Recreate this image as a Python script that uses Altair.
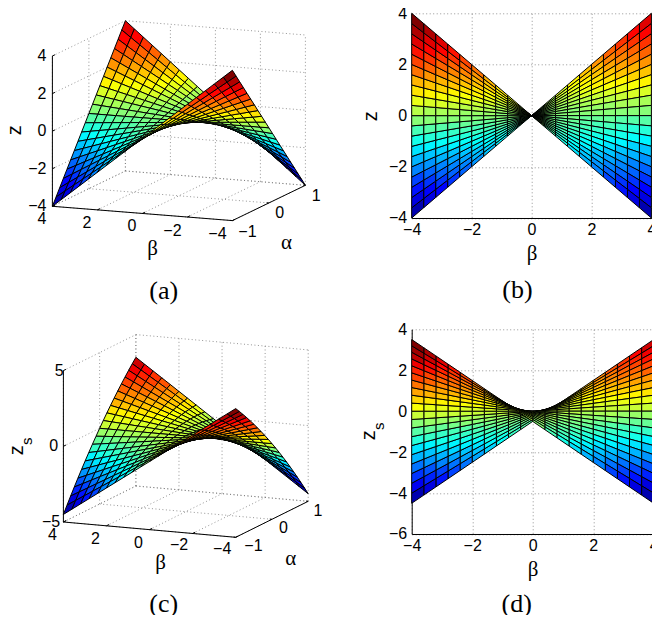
import altair as alt
import numpy as np

# grid of the meshes
beta_grid = [-4.0, -3.6, -3.2, -2.8, -2.4, -2.0, -1.6, -1.2, -0.8, -0.4, 0.0,
             0.4, 0.8, 1.2, 1.6, 2.0, 2.4, 2.8, 3.2, 3.6, 4.0]
alpha_grid = [-1.0, -0.9, -0.8, -0.7, -0.6, -0.5, -0.4, -0.3, -0.2, -0.1, 0.0,
              0.1, 0.2, 0.3, 0.4, 0.5, 0.6, 0.7, 0.8, 0.9, 1.0]
# vertical shift of each constant-alpha row in panels (c) and (d)
row_shift = [-0.5, -0.405, -0.32, -0.245, -0.18, -0.125, -0.08, -0.045, -0.02, -0.005, 0.0,
             -0.005, -0.02, -0.045, -0.08, -0.125, -0.18, -0.245, -0.32, -0.405, -0.5]
beta_ticks = [4, 2, 0, -2, -4]
alpha_ticks = [-1, 0, 1]
z_ticks_a = [-4, -2, 0, 2, 4]
z_ticks_c = [-5, 0, 5]
z_ticks_b = [-4, -2, 0, 2, 4]
z_ticks_d = [-6, -4, -2, 0, 2, 4]
captions = ["(a)", "(b)", "(c)", "(d)"]

SANS = "Liberation Sans"
SERIF = "Liberation Serif"
GRID = "#7a7a7a"

B = np.array(beta_grid)
A = np.array(alpha_grid)
Z = np.outer(A, B)
ZS = Z + np.array(row_shift)[:, None]


def jet(t):
    t = np.floor(np.clip(t, 0, 0.9999) * 64) / 63
    ch = [min(4 * t - 1.5, -4 * t + 4.5), min(4 * t - 0.5, -4 * t + 3.5), min(4 * t + 0.5, -4 * t + 2.5)]
    return "#%02x%02x%02x" % tuple(int(round(255 * max(0, min(1, c)))) for c in ch)


def quads(M, clim, proj):
    rows = []
    q = 0
    for i in range(19, -1, -1):
        for j in range(19, -1, -1):
            col = jet((M[i, j] - clim[0]) / (clim[1] - clim[0]))
            for o, (ii, jj) in enumerate([(i, j), (i, j + 1), (i + 1, j + 1), (i + 1, j)]):
                x, y = proj(B[jj], A[ii], M[ii, jj])
                rows.append({"q": q, "o": o, "x": round(float(x), 3), "y": round(float(y), 3), "c": col})
            q += 1
    return rows


def surface(rows, x, y):
    return alt.Chart(alt.Data(values=rows)).mark_line(
        interpolate="linear-closed", stroke="black", strokeWidth=1.0, strokeJoin="round"
    ).encode(x=x, y=y, detail="q:N", order="o:Q", fill=alt.Fill("c:N", scale=None))


def text(rows, x, y, font, size, align="center", angle=0):
    return alt.Chart(alt.Data(values=rows)).mark_text(
        font=font, fontSize=size, align=align, baseline="middle", angle=angle, color="black"
    ).encode(x=x, y=y, text="t:N")


def panel3d(top, O, bv, av, zv, zmin, zmax, zticks, M, clim, labels):
    span = zmax - zmin

    def P(b, a, z):
        return (O[0] + (4 - b) / 8 * bv[0] + (a + 1) / 2 * av[0],
                O[1] + (4 - b) / 8 * bv[1] + (a + 1) / 2 * av[1] + (z - zmin) / span * zv)

    def seg(p, q):
        return {"x": p[0], "y": p[1], "x2": q[0], "y2": q[1]}

    dotted = []
    for z in zticks:
        dotted.append(seg(P(4, -1, z), P(4, 1, z)))
        dotted.append(seg(P(4, 1, z), P(-4, 1, z)))
    for b in beta_ticks:
        dotted.append(seg(P(b, 1, zmin), P(b, 1, zmax)))
        dotted.append(seg(P(b, -1, zmin), P(b, 1, zmin)))
    for a in alpha_ticks:
        dotted.append(seg(P(4, a, zmin), P(4, a, zmax)))
        dotted.append(seg(P(4, a, zmin), P(-4, a, zmin)))

    solid = [seg(P(4, -1, zmin), P(4, -1, zmax)), seg(P(4, -1, zmin), P(-4, -1, zmin)),
             seg(P(-4, -1, zmin), P(-4, 1, zmin))]
    for z in zticks:
        solid.append(seg(P(4, -1, z), P(4, -0.93, z)))
    for b in beta_ticks:
        solid.append(seg(P(b, -1, zmin), P(b, -0.93, zmin)))
    for a in alpha_ticks:
        solid.append(seg(P(-4, a, zmin), P(-3.9, a, zmin)))

    x_enc = alt.X("x:Q", axis=None, scale=alt.Scale(domain=[8, 370], nice=False, zero=False))
    y_enc = alt.Y("y:Q", axis=None, scale=alt.Scale(domain=[top + 204.7, top], nice=False, zero=False))
    x2 = alt.X2("x2:Q")
    y2 = alt.Y2("y2:Q")

    dots = alt.Chart(alt.Data(values=dotted)).mark_rule(
        color=GRID, strokeWidth=0.8, strokeDash=[1, 2.5]).encode(x=x_enc, y=y_enc, x2=x2, y2=y2)
    lines = alt.Chart(alt.Data(values=solid)).mark_rule(
        color="black", strokeWidth=1).encode(x=x_enc, y=y_enc, x2=x2, y2=y2)
    surf = surface(quads(M, clim, P), x_enc, y_enc)

    zl = []
    for z, r in zip(zticks, labels["z_right"]):
        zl.append({"x": r, "y": P(4, -1, z)[1], "t": str(z).replace("-", "−")})
    bl = []
    for b in beta_ticks:
        p = P(b, -1, zmin)
        off = labels["b_off_neg"] if b < 0 else labels["b_off"]
        bl.append({"x": p[0] + off[0], "y": p[1] + off[1], "t": str(b).replace("-", "−")})
    al = []
    for a, off in zip(alpha_ticks, labels["a_off"]):
        p = P(-4, a, zmin)
        al.append({"x": p[0] + off[0], "y": p[1] + off[1], "t": str(a).replace("-", "−")})

    layers = [dots, surf, lines,
              text(zl, x_enc, y_enc, SANS, 16, align="right"),
              text(bl + al, x_enc, y_enc, SANS, 16),
              text([labels["beta"]], x_enc, y_enc, SERIF, 21),
              text([labels["alpha"]], x_enc, y_enc, SERIF, 21),
              text([labels["cap"]], x_enc, y_enc, SERIF, 26)]
    for r, s in labels["zlab"]:
        layers.append(text([r], x_enc, y_enc, SANS, s, angle=270))
    return alt.layer(*layers).properties(width=362, height=204.7)


def panel2d(w, h, M, clim, yticks, ydom, x_title_pad, y_title, cap_xy, extra):
    def P(b, a, z):
        return (b, z)

    x_enc = alt.X("x:Q", scale=alt.Scale(domain=[-4, 4], nice=False, zero=False),
                  axis=alt.Axis(values=[-4, -2, 0, 2, 4], title="β", titleFont=SERIF, titleFontSize=21,
                                titleFontWeight="normal", titlePadding=x_title_pad, labelFont=SANS,
                                labelFontSize=16, labelColor="black", labelPadding=4, tickSize=0,
                                labelFlush=False, labelOverlap=False, domainColor="black",
                                grid=True, gridColor=GRID, gridDash=[1, 2.5], gridWidth=0.8,
                                titleColor="black"))
    y_enc = alt.Y("y:Q", scale=alt.Scale(domain=ydom, nice=False, zero=False),
                  axis=alt.Axis(values=yticks, title=y_title, titleFont=SANS, titleFontSize=20,
                                titleFontWeight="normal", titlePadding=8, labelFont=SANS,
                                labelFontSize=16, labelColor="black", labelPadding=5, tickSize=0,
                                labelFlush=False, labelOverlap=False, domainColor="black",
                                grid=True, gridColor=GRID, gridDash=[1, 2.5], gridWidth=0.8,
                                titleColor="black"))
    layers = [surface(quads(M, clim, P), x_enc, y_enc)]
    for t, x, y, font, size, angle in [cap_xy] + extra:
        layers.append(alt.Chart(alt.Data(values=[{"t": t}])).mark_text(
            text=t, font=font, fontSize=size, angle=angle, color="black", baseline="middle", align="center"
        ).encode(x=alt.value(x), y=alt.value(y)))
    return alt.layer(*layers).properties(width=w, height=h)


a = panel3d(12, (51.7, 205), (180, 14.3), (73, -35.3), -150.3, -4, 4, z_ticks_a, Z, (-4, 4), {
    "z_right": [45.7, 45.7, 45.7, 45.7, 45.7],
    "b_off": (-10.5, 13), "b_off_neg": (-15, 13.5),
    "a_off": [(15, 11), (10.7, 10.5), (10.7, 11)],
    "beta": {"x": 152, "y": 248, "t": "β"},
    "alpha": {"x": 285.7, "y": 242, "t": "α"},
    "cap": {"x": 163, "y": 290, "t": captions[0]},
    "zlab": [({"x": 14, "y": 129, "t": "z"}, 20)],
})
c = panel3d(328, (62.7, 520.7), (172.3, 15.3), (72.5, -36), -151.4, -5, 5, z_ticks_c, ZS, (-4.5, 3.5), {
    "z_right": [59.5, 57.5, 63],
    "b_off": (-11, 13), "b_off_neg": (-13.5, 12),
    "a_off": [(17.7, 9), (11.4, 9), (9.7, 10)],
    "beta": {"x": 160, "y": 562, "t": "β"},
    "alpha": {"x": 290, "y": 558, "t": "α"},
    "cap": {"x": 163, "y": 603, "t": captions[2]},
    "zlab": [({"x": 16.7, "y": 449, "t": "z"}, 20), ({"x": 26.7, "y": 440, "t": "s"}, 15)],
})
b = panel2d(239.7, 204.7, Z, (-4, 4), z_ticks_b, [-4, 4], 5, "z",
            (captions[1], 105.7, 277, SERIF, 26, 0), [])
d = panel2d(242, 204.7, ZS, (-4.5, 3.5), z_ticks_d, [-6, 4], 5, "",
            (captions[3], 105, 275, SERIF, 26, 0),
            [("z", -42.4, 106, SANS, 20, 270), ("s", -32.4, 97, SANS, 15, 270)])

chart = alt.concat(a, b, c, d, columns=2, spacing={"column": 41, "row": 111}, bounds="flush").properties(
    padding={"left": -3.3, "top": -2.7, "right": -6.7, "bottom": -2}, background="white"
).configure_view(stroke=None)

chart.save("out.html", embed_options={"renderer": "svg", "actions": False})
